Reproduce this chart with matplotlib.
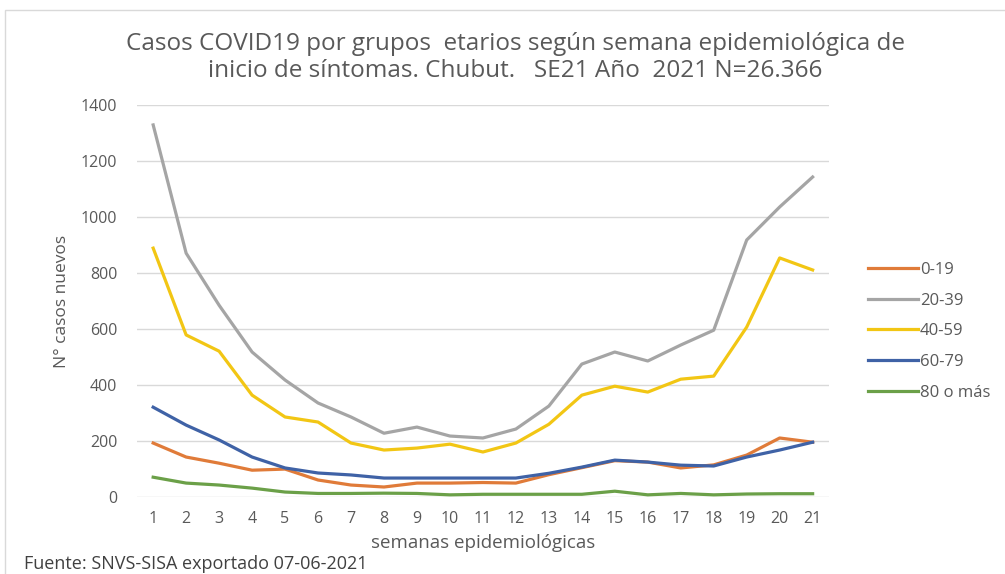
import matplotlib.pyplot as plt
from matplotlib.patches import Rectangle

plt.rcParams['font.family'] = ['Open Sans', 'DejaVu Sans']

semanas = list(range(1, 22))
grupos = ["0-19", "20-39", "40-59", "60-79", "80 o más"]
g0_19 = [193, 143, 121, 96, 100, 61, 43, 36, 50, 50, 52, 50, 80, 105, 130, 125, 104, 115, 150, 211, 196]
g20_39 = [1329, 871, 685, 518, 418, 336, 286, 228, 250, 218, 211, 243, 325, 475, 518, 486, 543, 596, 918, 1036, 1143]
g40_59 = [889, 579, 521, 364, 286, 268, 193, 168, 175, 189, 161, 193, 260, 364, 396, 375, 421, 432, 607, 854, 811]
g60_79 = [321, 257, 204, 143, 104, 86, 79, 68, 68, 68, 68, 68, 85, 107, 132, 125, 114, 111, 143, 168, 196]
g80 = [71, 50, 43, 32, 18, 13, 13, 14, 13, 8, 10, 10, 10, 10, 21, 8, 13, 8, 11, 12, 12]
series = [g0_19, g20_39, g40_59, g60_79, g80]
colores = ["#E07B39", "#A5A5A5", "#F2C614", "#3F62A6", "#6BA048"]

fig = plt.figure(figsize=(10.05, 5.74), dpi=100)
fig.patches.append(Rectangle((0.005, -0.1), 1.1, 1.083, transform=fig.transFigure,
                             fill=False, edgecolor="#D9D9D9", lw=1))
ax = fig.add_axes([0.136, 0.134, 0.689, 0.683])

for s, c, g in zip(series, colores, grupos):
    ax.plot(semanas, s, color=c, lw=2.3, label=g)

ax.set_xlim(0.5, 21.5)
ax.set_ylim(0, 1400)
ax.set_xticks(semanas)
ax.set_yticks(range(0, 1401, 200))
ax.grid(axis="y", color="#D9D9D9", lw=1)
ax.set_axisbelow(True)
for sp in ax.spines.values():
    sp.set_visible(False)
ax.tick_params(length=0, labelsize=11.5, colors="#595959", pad=10)
ax.tick_params(axis="y", pad=14)

ax.set_ylabel("N° casos nuevos", fontsize=12.5, color="#595959", labelpad=8)
ax.set_xlabel("semanas epidemiológicas", fontsize=13.5, color="#595959", labelpad=5)

fig.text(0.513, 0.9, "Casos COVID19 por grupos  etarios según semana epidemiológica de\n"
         "inicio de síntomas. Chubut.   SE21 Año  2021 N=26.366",
         ha="center", va="center", fontsize=17.5, color="#595959", linespacing=1.2)

fig.text(0.024, 0.008, "Fuente: SNVS-SISA exportado 07-06-2021", fontsize=13, color="#404040")

ax.legend(loc="center left", bbox_to_anchor=(1.035, 0.423), frameon=False, fontsize=12,
          labelcolor="#595959", handlelength=3.0, handletextpad=0.1, labelspacing=0.88)

fig.savefig("out.png", dpi=100)
